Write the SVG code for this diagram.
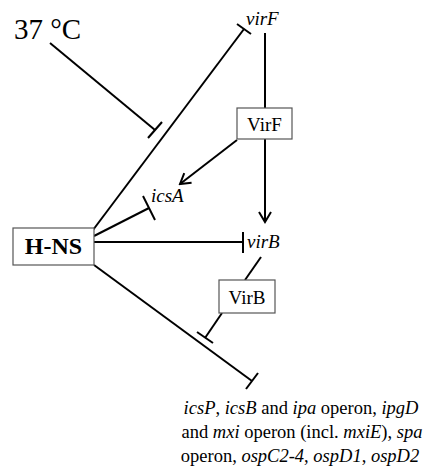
<svg xmlns="http://www.w3.org/2000/svg" width="429" height="473" viewBox="0 0 429 473">
<style>
.t{font-family:"Liberation Serif","DejaVu Serif",serif;fill:#000}
.i{font-style:italic}
.box{fill:#fff;stroke:#555;stroke-width:1.2}
.ln{stroke:#000;stroke-width:2;fill:none;stroke-linecap:butt}
</style>
<defs>
<marker id="arr" viewBox="0 0 14 14" refX="12" refY="7" markerWidth="14" markerHeight="14" markerUnits="userSpaceOnUse" orient="auto">
<path d="M2,1 L12,7 L2,13" fill="none" stroke="#000" stroke-width="2"/>
</marker>
</defs>
<g id="connectors">
<line class="ln" x1="50" y1="43" x2="155" y2="130"/>
<line class="ln" x1="148" y1="138" x2="162" y2="122"/>
<line class="ln" x1="93" y1="230" x2="244" y2="29"/>
<line class="ln" x1="237" y1="24" x2="251" y2="34"/>
<line class="ln" x1="265" y1="33" x2="265" y2="108"/>
<line class="ln" x1="265" y1="139" x2="265" y2="222" marker-end="url(#arr)"/>
<line class="ln" x1="237" y1="140" x2="180" y2="184" marker-end="url(#arr)"/>
<line class="ln" x1="94" y1="236" x2="149" y2="208"/>
<line class="ln" x1="143" y1="196" x2="155" y2="220"/>
<line class="ln" x1="94" y1="242" x2="243" y2="242"/>
<line class="ln" x1="243" y1="232" x2="243" y2="253"/>
<line class="ln" x1="261" y1="257" x2="245" y2="280"/>
<line class="ln" x1="222" y1="313" x2="205" y2="338"/>
<line class="ln" x1="197" y1="332" x2="213" y2="343"/>
<line class="ln" x1="94" y1="265" x2="252" y2="381"/>
<line class="ln" x1="246" y1="389" x2="258" y2="373"/>
</g>
<g id="temp"><text class="t" x="14" y="39" font-size="29">37 °C</text></g>
<g id="virF"><text class="t i" x="246" y="25" font-size="19">virF</text></g>
<g id="VirF"><rect class="box" x="237" y="108" width="55" height="31"/><text class="t" x="264.5" y="131" font-size="19" text-anchor="middle">VirF</text></g>
<g id="icsA"><text class="t i" x="151" y="202" font-size="19">icsA</text></g>
<g id="HNS"><rect class="box" x="13" y="228" width="81" height="37"/><text class="t" x="53.5" y="254" font-size="24" font-weight="bold" text-anchor="middle">H-NS</text></g>
<g id="virB"><text class="t i" x="247" y="248" font-size="19">virB</text></g>
<g id="VirB"><rect class="box" x="219" y="280" width="56" height="33"/><text class="t" x="247" y="304" font-size="19" text-anchor="middle">VirB</text></g>
<g id="targets">
<text class="t" x="301" y="414" font-size="18.5" text-anchor="middle"><tspan class="i">icsP</tspan>, <tspan class="i">icsB</tspan> and <tspan class="i">ipa</tspan> operon, <tspan class="i">ipgD</tspan></text>
<text class="t" x="302" y="438" font-size="18.5" text-anchor="middle">and <tspan class="i">mxi</tspan> operon (incl. <tspan class="i">mxiE</tspan>), <tspan class="i">spa</tspan></text>
<text class="t" x="300" y="462" font-size="18.5" text-anchor="middle">operon, <tspan class="i">ospC2-4</tspan>, <tspan class="i">ospD1</tspan>, <tspan class="i">ospD2</tspan></text>
</g>
</svg>
